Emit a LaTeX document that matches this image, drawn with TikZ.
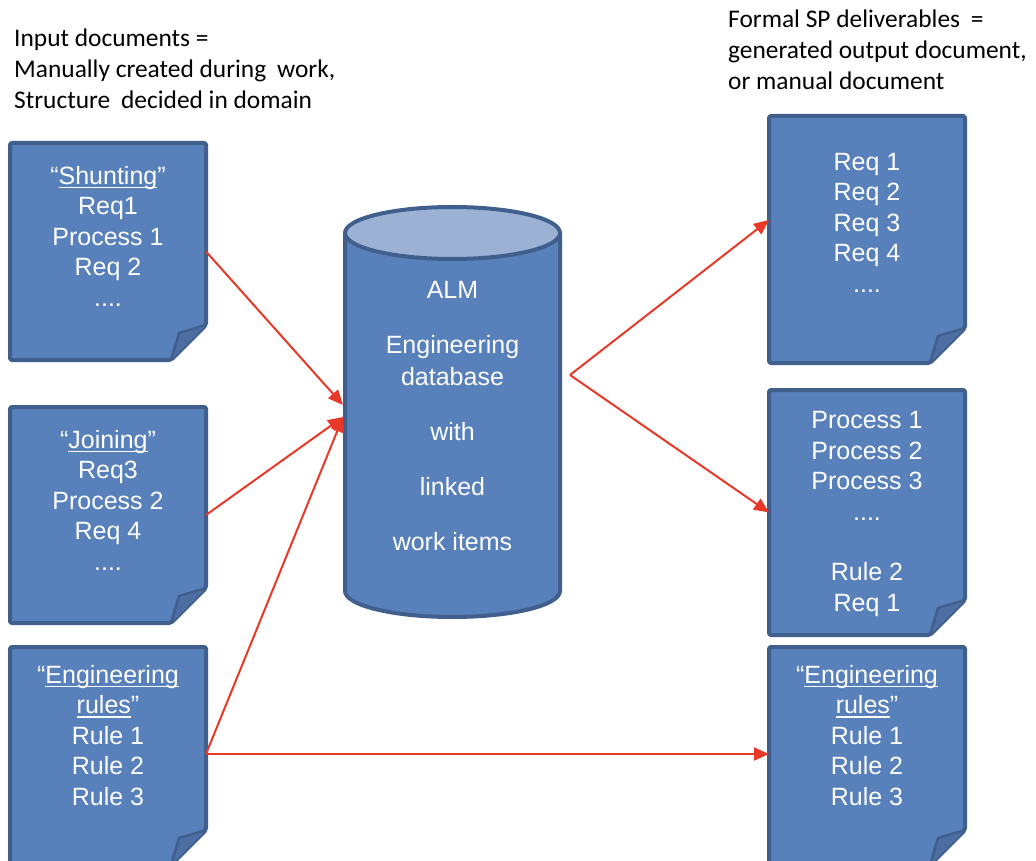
\documentclass[tikz,border=0pt]{standalone}
\usepackage{fontspec}
\setmainfont{Liberation Sans}
\newfontfamily\hdrfont{Carlito}
\usetikzlibrary{arrows.meta}

\definecolor{docfill}{RGB}{88,128,186}
\definecolor{docline}{RGB}{64,95,141}
\definecolor{topfill}{RGB}{156,178,213}
\definecolor{flapfill}{RGB}{76,110,162}
\definecolor{arrowred}{RGB}{232,56,40}

% underline that sits just below the baseline
\newcommand\undl[1]{\setbox0\hbox{#1}\rlap{\rule[-0.17em]{\wd0}{0.07em}}\box0}

% page outline with folded bottom-right corner, drawn on a named area node
\newcommand\docshape[1]{%
  \draw[docstroke, rounded corners=2pt, fill=docfill]
    (#1.north west) -- (#1.north east) -- ([yshift=35pt]#1.south east)
    -- ([xshift=-35pt]#1.south east) -- (#1.south west) -- cycle;
  \draw[docstroke, fill=flapfill, line width=2.5pt]
    ([xshift=-35pt]#1.south east) -- ([xshift=-27pt,yshift=27pt]#1.south east)
    -- ([yshift=35pt]#1.south east);
}

% multi-line texts are placed by the baseline of their last line
\tikzset{
  docstroke/.style={draw=docline, line width=4pt, line join=round},
  area/.style={inner sep=0pt, outer sep=0pt, draw=none},
  doctext/.style={anchor=base, align=center, text=white,
    font=\fontsize{25}{30.5}\selectfont, inner sep=0pt},
  header/.style={anchor=base west, align=left, inner sep=0pt,
    font=\hdrfont\fontsize{25.4}{31}\selectfont},
  flow/.style={draw=arrowred, line width=2pt,
    -{Triangle[length=15pt,width=13pt]}},
}

\begin{document}
\begin{tikzpicture}[x=1pt,y=-1pt]
\useasboundingbox (0,0) rectangle (1036,861);
\clip (0,0) rectangle (1036,861);

% headers
\node[header] (hin) at (14,109) {Input documents =\\Manually created during\hspace{0.2em} work,\\Structure\hspace{0.2em} decided in domain};
\node[header] (hout) at (728,90) {Formal SP deliverables\hspace{0.2em} =\\generated output document,\\or manual document};

% page areas
\node[area, minimum width=196pt, minimum height=217pt] (ld1) at (108,251.5) {};
\node[area, minimum width=196pt, minimum height=216pt] (ld2) at (108,515) {};
\node[area, minimum width=196pt, minimum height=218pt] (ld3) at (108,756) {};
\node[area, minimum width=196pt, minimum height=247pt] (rd1) at (867,239.5) {};
\node[area, minimum width=196pt, minimum height=245pt] (rd2) at (867,512.5) {};
\node[area, minimum width=196pt, minimum height=218pt] (rd3) at (867,756) {};

\docshape{ld1}
\docshape{ld2}
\docshape{ld3}
\docshape{rd1}
\docshape{rd2}
\docshape{rd3}

% database cylinder
\node[area, minimum width=215pt, minimum height=410pt] (alm) at (452.5,412) {};
\draw[docstroke, fill=docfill]
  (345,233) -- (345,591) arc[start angle=180, end angle=360, x radius=107.5pt, y radius=26pt]
  -- (560,233) -- cycle;
\draw[docstroke, fill=topfill] (452.5,233) ellipse [x radius=107.5pt, y radius=26pt];

% texts
\node[doctext] (t1) at (108,306) {“\undl{Shunting}”\\Req1\\Process 1\\Req 2\\....};
\node[doctext] (t2) at (108,570) {“\undl{Joining}”\\Req3\\Process 2\\Req 4\\....};
\node[doctext] (t3) at (108,805) {“\undl{Engineering}\\\undl{rules}”\\Rule 1\\Rule 2\\Rule 3};
\node[doctext] (t4) at (867,292) {Req 1\\Req 2\\Req 3\\Req 4\\....};
\node[doctext] (t5) at (867,611) {Process 1\\Process 2\\Process 3\\....\\[30pt]Rule 2\\Req 1};
\node[doctext] (t6) at (867,805) {“\undl{Engineering}\\\undl{rules}”\\Rule 1\\Rule 2\\Rule 3};
\node[doctext, font=\fontsize{25}{32}\selectfont] (tdb) at (452.5,550)
  {ALM\\[23pt]Engineering\\database\\[23pt]with\\[23pt]linked\\[23pt]work items};

% connectors
\coordinate (fork) at (570,375);
\draw[flow] (ld1.east) -- ([xshift=-2pt,yshift=7pt]alm.west);
\draw[flow] (ld2.east) -- ([xshift=-2pt,yshift=-5pt]alm.west);
\draw[flow] ([yshift=2pt]ld3.east) -- ([xshift=-2pt,yshift=-5pt]alm.west);
\draw[flow] ([yshift=2pt]ld3.east) -- ([yshift=2pt]rd3.west);
\draw[flow] (fork) -- ([yshift=19.5pt]rd1.west);
\draw[flow] (fork) -- (rd2.west);
\end{tikzpicture}
\end{document}
